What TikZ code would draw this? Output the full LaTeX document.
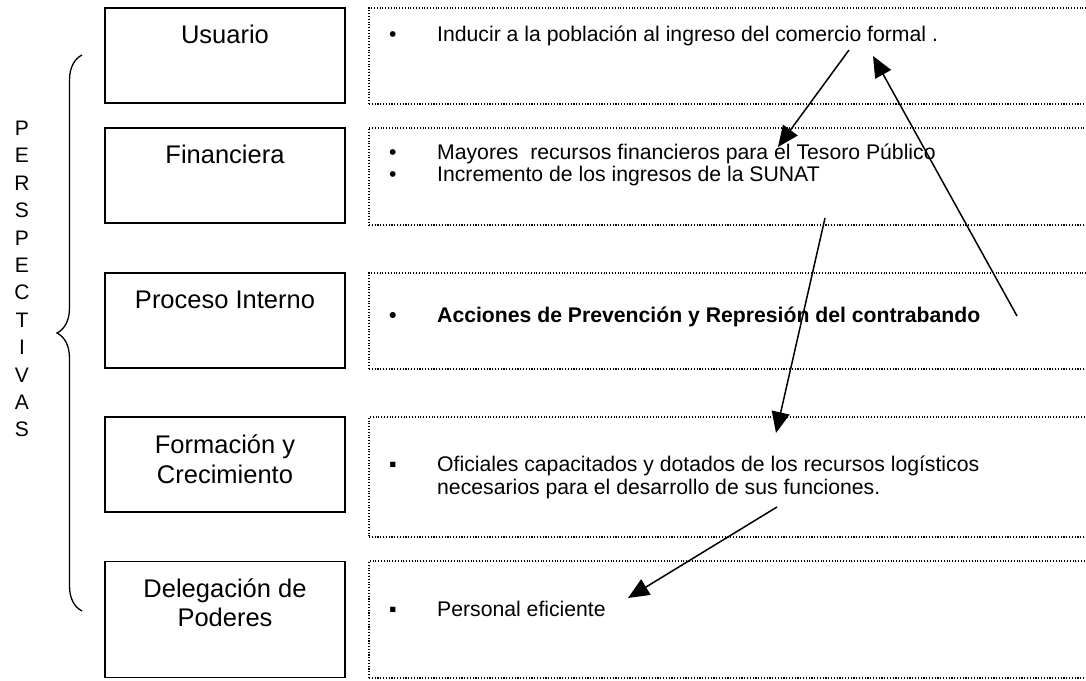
\documentclass[tikz,border=0pt]{standalone}
\usepackage{fontspec}
\setmainfont{Liberation Sans}
\usetikzlibrary{arrows.meta,decorations.pathreplacing,positioning}
\newcommand\itm[1]{\makebox[48pt][l]{#1}}

\begin{document}
\begin{tikzpicture}[x=1pt, y=-1pt,
        catbox/.style={draw, line width=1.6pt, minimum width=240pt, minimum height=95pt, inner sep=0pt},
        objbox/.style={draw, line width=1.1pt, dash pattern=on 1.1pt off 1.7pt, minimum width=760pt, inner sep=0pt},
        cattext/.style={font=\fontsize{25.5}{29}\selectfont, anchor=base, inner sep=0pt},
        objtext/.style={font=\fontsize{21.2}{24}\selectfont, anchor=base west, inner sep=0pt},
        side/.style={font=\fontsize{21}{24}\selectfont, anchor=base, inner sep=0pt},
        link/.style={line width=1.5pt, -{Triangle[length=21pt,width=18pt]}}]
        \useasboundingbox (0,0) rectangle (1086,680);
        \clip (0,0) rectangle (1086,680);
        % perspectivas
        \node[catbox] (usuario) at (225,55.5) {};
        \node[catbox] (financiera) at (225,175.5) {};
        \node[catbox] (proceso) at (225,320.5) {};
        \node[catbox] (formacion) at (225,464.5) {};
        \node[catbox, minimum height=116pt] (delegacion) at (225,619.5) {};
        \node[cattext] (usuarioL) at (225,43.5) {Usuario};
        \node[cattext] (financieraL) at (225,163.5) {Financiera};
        \node[cattext] (procesoL) at (225,308) {Proceso Interno};
        \node[cattext] (formacionL) at (225,453) {Formación y};
        \node[cattext] (formacionM) at (225,483) {Crecimiento};
        \node[cattext] (delegacionL) at (225,597) {Delegación de};
        \node[cattext] (delegacionM) at (225,626) {Poderes};
        % objetivos
        \node[objbox, minimum height=96pt] (obj1) at (749,56) {};
        \node[objbox, minimum height=97pt] (obj2) at (749,176.5) {};
        \node[objbox, minimum height=96pt] (obj3) at (749,321) {};
        \node[objbox, minimum height=120pt] (obj4) at (749,477) {};
        \node[objbox, minimum height=117pt] (obj5) at (749,619.5) {};
        \node[objtext] (obj1a) at (389,41) {\itm{•}Inducir a la población al ingreso del comercio formal .};
        \node[objtext] (obj2a) at (389,159) {\itm{•}Mayores\ \ recursos financieros para el Tesoro Público};
        \node[objtext] (obj2b) at (389,181) {\itm{•}Incremento de los ingresos de la SUNAT};
        \node[objtext, font=\fontsize{21.2}{24}\selectfont\bfseries] (obj3a) at (389,322) {\itm{•}Acciones de Prevención y Represión del contrabando};
        \node[objtext] (obj4a) at (389,471) {\itm{▪}Oficiales capacitados y dotados de los recursos logísticos};
        \node[objtext] (obj4b) at (437,494) {necesarios para el desarrollo de sus funciones.};
        \node[objtext] (obj5a) at (389,616) {\itm{▪}Personal eficiente};
        % llave
        \draw[line width=1.3pt, decorate, decoration={brace, amplitude=25pt}] (82,611) -- (82,55);
        \foreach \ch [count=\i from 0] in {P,E,R,S,P,E,C,T,I,V,A,S}
            \node[side] (per\i) at (22,135.5+27.4*\i) {\ch};
        % flechas
        \coordinate (a1s) at (849,50);
        \coordinate (a1e) at (778,147);
        \coordinate (a2s) at (1017,316);
        \coordinate (a2e) at (873,56);
        \coordinate (a3s) at (825,218);
        \coordinate (a3e) at (776,433);
        \coordinate (a4s) at (777,507);
        \coordinate (a4e) at (628,598);
        \draw[link] (a1s) -- (a1e);
        \draw[link] (a2s) -- (a2e);
        \draw[link] (a3s) -- (a3e);
        \draw[link] (a4s) -- (a4e);
    \end{tikzpicture}
\end{document}
